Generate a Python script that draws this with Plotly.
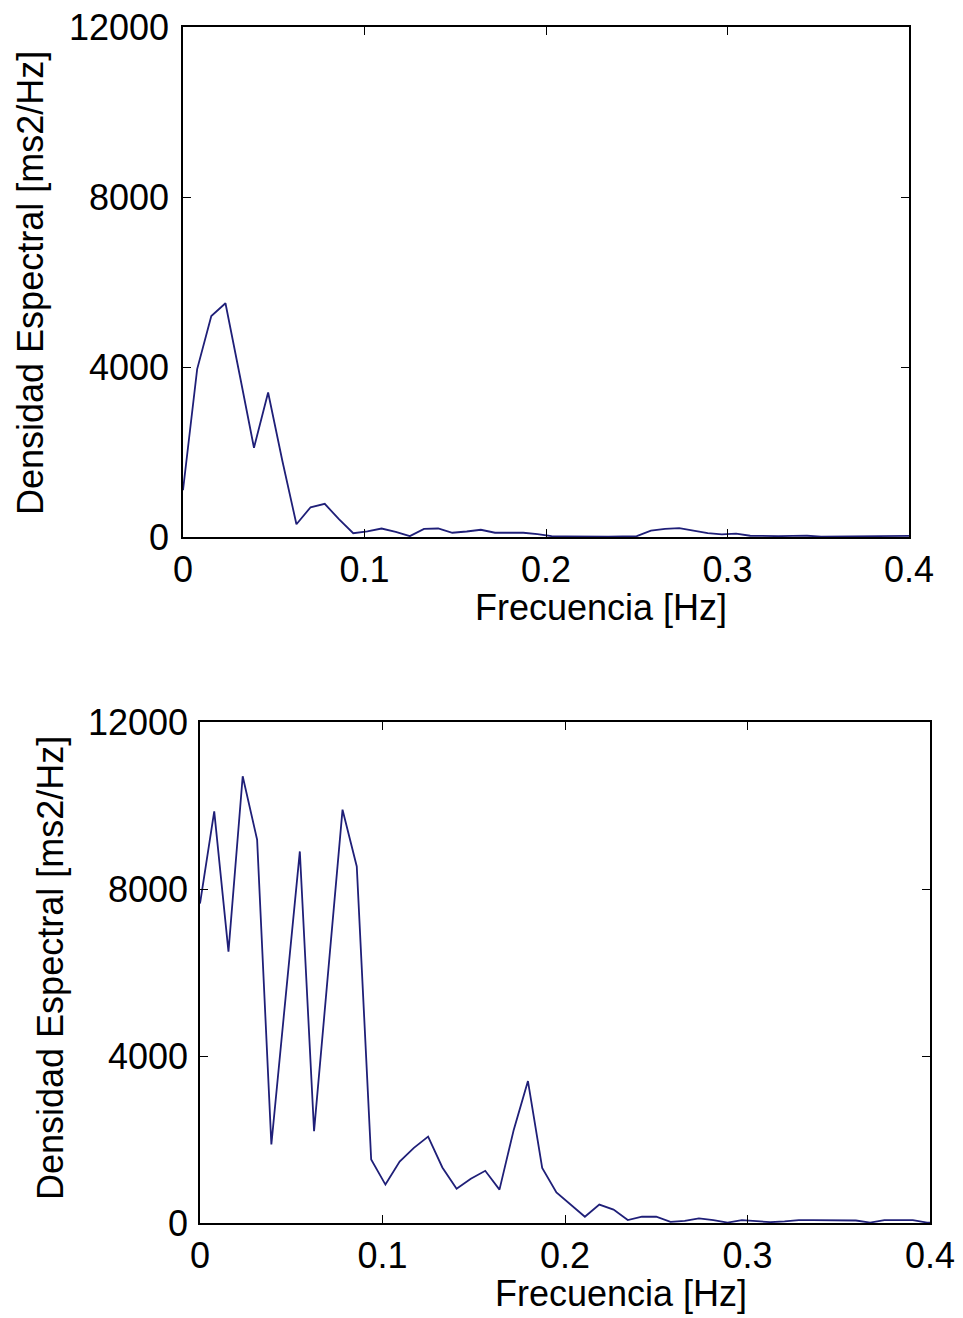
import plotly.graph_objects as go

W, H = 963, 1318

freq = [0.0, 0.0078, 0.0156, 0.0234, 0.0313, 0.0391, 0.0469, 0.0547, 0.0625, 0.0703,
        0.0781, 0.0859, 0.0938, 0.1016, 0.1094, 0.1172, 0.125, 0.1328, 0.1406, 0.1484,
        0.1563, 0.1641, 0.1719, 0.1797, 0.1875, 0.1953, 0.2031, 0.2109, 0.2188, 0.2266,
        0.2344, 0.2422, 0.25, 0.2578, 0.2656, 0.2734, 0.2813, 0.2891, 0.2969, 0.3047,
        0.3125, 0.3203, 0.3281, 0.3359, 0.3438, 0.3516, 0.3594, 0.3672, 0.375, 0.3828,
        0.3906, 0.3984, 0.4063]

psd_top = [1100, 3950, 5200, 5500, 3800, 2100, 3400, 1800, 300, 700,
           780, 420, 90, 130, 200, 120, 20, 190, 200, 100,
           130, 170, 100, 100, 100, 70, 20, 15, 10, 10,
           10, 15, 20, 150, 190, 210, 150, 90, 60, 80,
           30, 20, 20, 25, 30, 10, 10, 10, 10, 15,
           15, 20, 30]

psd_bottom = [7650, 9860, 6500, 10700, 9180, 1880, 5400, 8900, 2200, 6000,
              9900, 8540, 1520, 920, 1470, 1800, 2070, 1330, 820, 1060,
              1250, 800, 2230, 3400, 1320, 730, 440, 150, 440, 320,
              70, 150, 150, 25, 50, 110, 70, 10, 70, 50,
              20, 40, 70, 70, 70, 70, 60, 10, 70, 70,
              70, 10, 10]

x_ticks = [0, 0.1, 0.2, 0.3, 0.4]
x_ticktext = ["0", "0.1", "0.2", "0.3", "0.4"]
y_ticks = [0, 4000, 8000, 12000]
y_ticktext = ["0", "4000", "8000", "12000"]

xlabel = "Frecuencia [Hz]"
ylabel = "Densidad Espectral [ms2/Hz]"

FONT = "Liberation Sans, Arial, sans-serif"
LINE_COLOR = "#1f1f78"

fig = go.Figure()
fig.add_trace(go.Scatter(x=freq, y=psd_top, mode="lines",
                         line=dict(color=LINE_COLOR, width=1.8),
                         xaxis="x", yaxis="y", showlegend=False))
fig.add_trace(go.Scatter(x=freq, y=psd_bottom, mode="lines",
                         line=dict(color=LINE_COLOR, width=1.8),
                         xaxis="x2", yaxis="y2", showlegend=False))


def px_x(p):
    return p / W


def px_y(p):
    return 1 - p / H


axis_common = dict(showline=True, linecolor="black", linewidth=1.5, mirror="ticks",
                   ticks="inside", ticklen=8, tickcolor="black", tickwidth=1.2,
                   showgrid=False, zeroline=False, automargin=False,
                   tickfont=dict(family=FONT, size=36, color="black"))

fig.update_layout(
    width=W, height=H,
    margin=dict(l=0, r=0, t=0, b=0),
    paper_bgcolor="white", plot_bgcolor="white",
    xaxis=dict(domain=[px_x(183), px_x(909)], range=[0, 0.4], anchor="y",
               tickvals=x_ticks, ticktext=x_ticktext, ticklabelstandoff=0, **axis_common),
    yaxis=dict(domain=[px_y(537), px_y(27)], range=[0, 12000], anchor="x",
               tickvals=y_ticks, ticktext=y_ticktext, ticklabelstandoff=5, **axis_common),
    xaxis2=dict(domain=[px_x(200), px_x(930)], range=[0, 0.4], anchor="y2",
                tickvals=x_ticks, ticktext=x_ticktext, ticklabelstandoff=0, **axis_common),
    yaxis2=dict(domain=[px_y(1223), px_y(722)], range=[0, 12000], anchor="x2",
                tickvals=y_ticks, ticktext=y_ticktext, ticklabelstandoff=3, **axis_common),
)

title_font = dict(family=FONT, size=36, color="black")
annotations = [
    dict(text=ylabel, x=px_x(30), y=px_y(283), textangle=-90),
    dict(text=xlabel, x=px_x(601), y=px_y(608), textangle=0),
    dict(text=ylabel, x=px_x(50), y=px_y(968), textangle=-90),
    dict(text=xlabel, x=px_x(621), y=px_y(1293), textangle=0),
]
for a in annotations:
    fig.add_annotation(xref="paper", yref="paper", showarrow=False,
                       xanchor="center", yanchor="middle", font=title_font, **a)

fig.write_html("out.html")
